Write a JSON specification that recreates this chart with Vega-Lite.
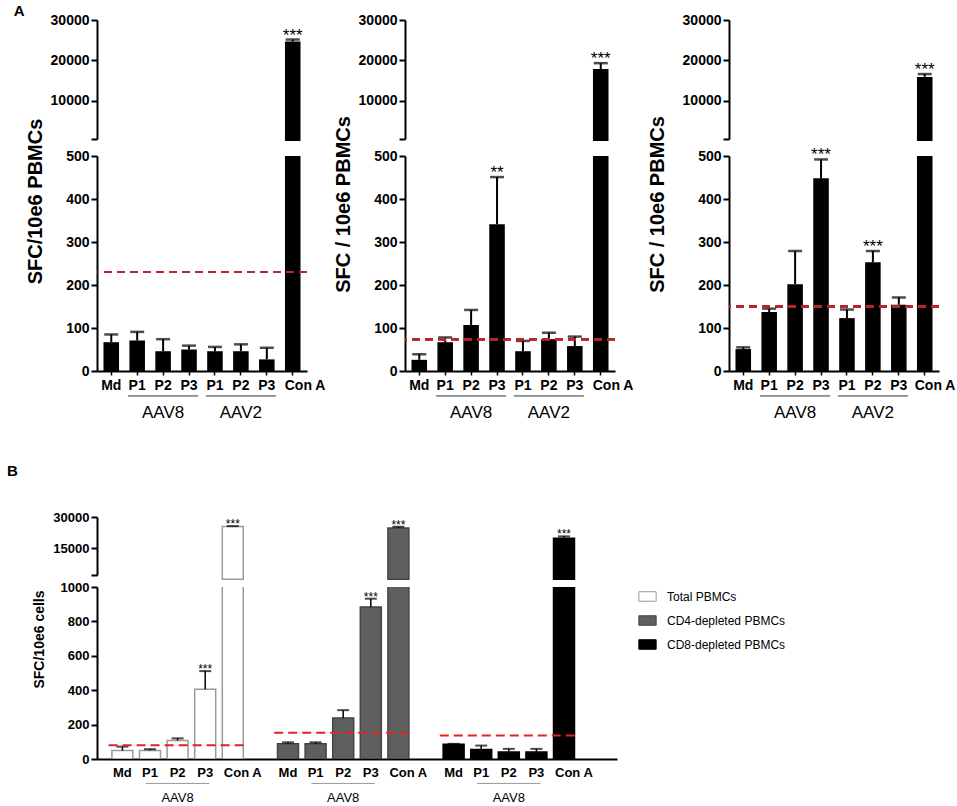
{
  "$schema": "https://vega.github.io/schema/vega-lite/v6.json",
  "padding": {"left": 7, "top": 4, "right": 2, "bottom": 2},
  "config": {
    "font": "Liberation Sans",
    "view": {"stroke": null},
    "axis": {"domainColor": "black", "tickColor": "black", "labelColor": "black", "titleColor": "black", "grid": false, "labelFontWeight": "bold", "titleFontWeight": "bold", "labelOverlap": false, "tickCount": 12},
    "title": {"fontWeight": "bold", "color": "black"}
  },
  "datasets": {
    "a1": [
      {"cat": "Md", "mean": 67, "upper": 85, "sig": ""},
      {"cat": "AAV8|P1", "mean": 71, "upper": 91, "sig": ""},
      {"cat": "AAV8|P2", "mean": 46, "upper": 74, "sig": ""},
      {"cat": "AAV8|P3", "mean": 50, "upper": 59, "sig": ""},
      {"cat": "AAV2|P1", "mean": 46, "upper": 56, "sig": ""},
      {"cat": "AAV2|P2", "mean": 46, "upper": 62, "sig": ""},
      {"cat": "AAV2|P3", "mean": 27, "upper": 54, "sig": ""},
      {"cat": "Con A", "mean": 24670, "upper": 25160, "sig": "***"}
    ],
    "a2": [
      {"cat": "Md", "mean": 26, "upper": 39, "sig": ""},
      {"cat": "AAV8|P1", "mean": 67, "upper": 78, "sig": ""},
      {"cat": "AAV8|P2", "mean": 107, "upper": 142, "sig": ""},
      {"cat": "AAV8|P3", "mean": 341, "upper": 451, "sig": "**"},
      {"cat": "AAV2|P1", "mean": 46, "upper": 70, "sig": ""},
      {"cat": "AAV2|P2", "mean": 74, "upper": 89, "sig": ""},
      {"cat": "AAV2|P3", "mean": 58, "upper": 80, "sig": ""},
      {"cat": "Con A", "mean": 17850, "upper": 19300, "sig": "***"}
    ],
    "a3": [
      {"cat": "Md", "mean": 51, "upper": 55, "sig": ""},
      {"cat": "AAV8|P1", "mean": 137, "upper": 145, "sig": ""},
      {"cat": "AAV8|P2", "mean": 202, "upper": 279, "sig": ""},
      {"cat": "AAV8|P3", "mean": 448, "upper": 492, "sig": "***"},
      {"cat": "AAV2|P1", "mean": 123, "upper": 143, "sig": ""},
      {"cat": "AAV2|P2", "mean": 253, "upper": 279, "sig": "***"},
      {"cat": "AAV2|P3", "mean": 154, "upper": 171, "sig": ""},
      {"cat": "Con A", "mean": 15900, "upper": 16600, "sig": "***"}
    ],
    "b": [
      {"cat": "T|Md", "cells": "Total PBMCs", "mean": 49, "upper": 72, "sig": ""},
      {"cat": "T|P1", "cells": "Total PBMCs", "mean": 49, "upper": 57, "sig": ""},
      {"cat": "T|P2", "cells": "Total PBMCs", "mean": 107, "upper": 120, "sig": ""},
      {"cat": "T|P3", "cells": "Total PBMCs", "mean": 406, "upper": 511, "sig": "***"},
      {"cat": "T|Con A", "cells": "Total PBMCs", "mean": 25460, "upper": 25600, "sig": "***"},
      {"cat": "C4|Md", "cells": "CD4-depleted PBMCs", "mean": 88, "upper": 97, "sig": ""},
      {"cat": "C4|P1", "cells": "CD4-depleted PBMCs", "mean": 88, "upper": 97, "sig": ""},
      {"cat": "C4|P2", "cells": "CD4-depleted PBMCs", "mean": 238, "upper": 284, "sig": ""},
      {"cat": "C4|P3", "cells": "CD4-depleted PBMCs", "mean": 883, "upper": 932, "sig": "***"},
      {"cat": "C4|Con A", "cells": "CD4-depleted PBMCs", "mean": 24700, "upper": 25300, "sig": "***"},
      {"cat": "C8|Md", "cells": "CD8-depleted PBMCs", "mean": 86, "upper": 88, "sig": ""},
      {"cat": "C8|P1", "cells": "CD8-depleted PBMCs", "mean": 55, "upper": 78, "sig": ""},
      {"cat": "C8|P2", "cells": "CD8-depleted PBMCs", "mean": 40, "upper": 59, "sig": ""},
      {"cat": "C8|P3", "cells": "CD8-depleted PBMCs", "mean": 40, "upper": 59, "sig": ""},
      {"cat": "C8|Con A", "cells": "CD8-depleted PBMCs", "mean": 19700, "upper": 20650, "sig": "***"}
    ],
    "groupsA": [
      {"g": "AAV8", "start": "AAV8|P1", "mid": "AAV8|P2", "end": "AAV8|P3"},
      {"g": "AAV2", "start": "AAV2|P1", "mid": "AAV2|P2", "end": "AAV2|P3"}
    ],
    "groupsB": [
      {"g": "AAV8", "start": "T|P1", "mid": "T|P2", "end": "T|P3"},
      {"g": "AAV8", "start": "C4|P1", "mid": "C4|P2", "end": "C4|P3"},
      {"g": "AAV8", "start": "C8|P1", "mid": "C8|P2", "end": "C8|P3"}
    ],
    "thrB": [
      {"start": "T|Md", "end": "T|Con A", "thr": 80},
      {"start": "C4|Md", "end": "C4|Con A", "thr": 153},
      {"start": "C8|Md", "end": "C8|Con A", "thr": 136}
    ]
  },
  "resolve": {"scale": {"fill": "independent", "stroke": "independent"}},
  "spacing": 43,
  "vconcat": [
    {
      "title": {"text": "A", "fontSize": 15, "anchor": "start", "offset": -6, "dx": -12},
      "spacing": 7,
      "hconcat": [
        {
          "spacing": 17, "bounds": "flush",
          "vconcat": [
            {
              "width": 210, "height": 119, "data": {"name": "a1"},
              "transform": [{"filter": "datum.mean > 500"}],
              "layer": [
                {"mark": {"type": "bar", "color": "black", "width": {"band": 0.6}},
                 "encoding": {
                   "x": {"field": "cat", "type": "nominal", "scale": {"domain": ["Md","AAV8|P1","AAV8|P2","AAV8|P3","AAV2|P1","AAV2|P2","AAV2|P3","Con A"], "paddingInner": 0, "paddingOuter": 0.05}, "axis": null},
                   "y": {"field": "mean", "type": "quantitative", "scale": {"domain": [500, 30000], "zero": false, "nice": false},
                   "axis": {"values": [500, 10000, 20000, 30000], "tickCount": 12, "format": "d", "labelExpr": "datum.value == 500 ? '' : datum.label", "title": null, "labelFontSize": 14, "tickSize": 6, "tickWidth": 2, "domainWidth": 2, "labelPadding": 2}}}},
                {"mark": {"type": "rule", "color": "black", "strokeWidth": 2}, "encoding": {"x": {"field": "cat", "type": "nominal"}, "y": {"field": "mean", "type": "quantitative"}, "y2": {"field": "upper"}}},
                {"mark": {"type": "tick", "color": "black", "size": 14, "thickness": 2.5}, "encoding": {"x": {"field": "cat", "type": "nominal"}, "y": {"field": "upper", "type": "quantitative"}}},
                {"transform": [{"filter": "datum.sig != ''"}], "mark": {"type": "text", "fontSize": 17, "baseline": "alphabetic", "dy": 1, "color": "black"}, "encoding": {"x": {"field": "cat", "type": "nominal"}, "y": {"field": "upper", "type": "quantitative"}, "text": {"field": "sig"}}}
              ]
            },
            {
              "width": 210, "height": 215, "data": {"name": "a1"},
              "layer": [
                {"mark": {"type": "bar", "color": "black", "clip": true, "width": {"band": 0.6}},
                 "encoding": {
                   "x": {"field": "cat", "type": "nominal", "scale": {"domain": ["Md","AAV8|P1","AAV8|P2","AAV8|P3","AAV2|P1","AAV2|P2","AAV2|P3","Con A"], "paddingInner": 0, "paddingOuter": 0.05},
                     "axis": {"title": null, "labelAngle": 0, "labelFontSize": 14, "labelPadding": 3, "tickSize": 4, "tickWidth": 1.5, "domainWidth": 2,
                       "labelAlign": {"condition": {"test": "datum.value == 'Con A'", "value": "left"}, "value": "center"},
                       "labelOffset": {"condition": {"test": "datum.value == 'Con A'", "value": -8}, "value": 0},
                       "labelExpr": "indexof(datum.label,'|') >= 0 ? substring(datum.label, indexof(datum.label,'|')+1) : datum.label"}},
                   "y": {"field": "mean", "type": "quantitative", "scale": {"domain": [0, 500], "nice": false},
                   "axis": {"values": [0, 100, 200, 300, 400, 500], "tickCount": 12, "format": "d", "title": "SFC/10e6 PBMCs", "titleFontSize": 20, "titleY": 45, "titlePadding": 20, "labelFontSize": 14, "tickSize": 6, "tickWidth": 2, "domainWidth": 2, "labelPadding": 2}}}},
                {"mark": {"type": "rule", "color": "black", "strokeWidth": 2, "clip": true}, "encoding": {"x": {"field": "cat", "type": "nominal"}, "y": {"field": "mean", "type": "quantitative"}, "y2": {"field": "upper"}}},
                {"mark": {"type": "tick", "color": "black", "size": 14, "thickness": 2.5, "clip": true}, "encoding": {"x": {"field": "cat", "type": "nominal"}, "y": {"field": "upper", "type": "quantitative"}}},
                {"transform": [{"filter": "datum.sig != '' && datum.mean < 500"}], "mark": {"type": "text", "fontSize": 17, "baseline": "alphabetic", "dy": 1, "color": "black"}, "encoding": {"x": {"field": "cat", "type": "nominal"}, "y": {"field": "upper", "type": "quantitative"}, "text": {"field": "sig"}}},
                {"mark": {"type": "rule", "color": "#b8262b", "strokeWidth": 2, "strokeDash": [8, 5]}, "encoding": {"y": {"datum": 230}}},
                {"data": {"name": "groupsA"}, "mark": {"type": "rule", "color": "#333333", "strokeWidth": 1}, "encoding": {"x": {"field": "start", "type": "nominal", "bandPosition": 0.15}, "x2": {"field": "end", "bandPosition": 0.85}, "y": {"datum": -58}}},
                {"data": {"name": "groupsA"}, "mark": {"type": "text", "fontSize": 17, "baseline": "middle", "color": "black"}, "encoding": {"x": {"field": "mid", "type": "nominal"}, "y": {"datum": -97}, "text": {"field": "g"}}}
              ]
            }
          ]
        },
        {
          "spacing": 13,
          "hconcat": [
            {
              "spacing": 17, "bounds": "flush",
              "vconcat": [
                {
                  "width": 210, "height": 119, "data": {"name": "a2"},
                  "transform": [{"filter": "datum.mean > 500"}],
                  "layer": [
                    {"mark": {"type": "bar", "color": "black", "width": {"band": 0.6}},
                     "encoding": {
                       "x": {"field": "cat", "type": "nominal", "scale": {"domain": ["Md","AAV8|P1","AAV8|P2","AAV8|P3","AAV2|P1","AAV2|P2","AAV2|P3","Con A"], "paddingInner": 0, "paddingOuter": 0.05}, "axis": null},
                       "y": {"field": "mean", "type": "quantitative", "scale": {"domain": [500, 30000], "zero": false, "nice": false},
                       "axis": {"values": [500, 10000, 20000, 30000], "tickCount": 12, "format": "d", "labelExpr": "datum.value == 500 ? '' : datum.label", "title": null, "labelFontSize": 14, "tickSize": 6, "tickWidth": 2, "domainWidth": 2, "labelPadding": 2}}}},
                    {"mark": {"type": "rule", "color": "black", "strokeWidth": 2}, "encoding": {"x": {"field": "cat", "type": "nominal"}, "y": {"field": "mean", "type": "quantitative"}, "y2": {"field": "upper"}}},
                    {"mark": {"type": "tick", "color": "black", "size": 14, "thickness": 2.5}, "encoding": {"x": {"field": "cat", "type": "nominal"}, "y": {"field": "upper", "type": "quantitative"}}},
                    {"transform": [{"filter": "datum.sig != ''"}], "mark": {"type": "text", "fontSize": 17, "baseline": "alphabetic", "dy": 1, "color": "black"}, "encoding": {"x": {"field": "cat", "type": "nominal"}, "y": {"field": "upper", "type": "quantitative"}, "text": {"field": "sig"}}}
                  ]
                },
                {
                  "width": 210, "height": 215, "data": {"name": "a2"},
                  "layer": [
                    {"mark": {"type": "bar", "color": "black", "clip": true, "width": {"band": 0.6}},
                     "encoding": {
                       "x": {"field": "cat", "type": "nominal", "scale": {"domain": ["Md","AAV8|P1","AAV8|P2","AAV8|P3","AAV2|P1","AAV2|P2","AAV2|P3","Con A"], "paddingInner": 0, "paddingOuter": 0.05},
                         "axis": {"title": null, "labelAngle": 0, "labelFontSize": 14, "labelPadding": 3, "tickSize": 4, "tickWidth": 1.5, "domainWidth": 2,
                           "labelAlign": {"condition": {"test": "datum.value == 'Con A'", "value": "left"}, "value": "center"},
                           "labelOffset": {"condition": {"test": "datum.value == 'Con A'", "value": -8}, "value": 0},
                           "labelExpr": "indexof(datum.label,'|') >= 0 ? substring(datum.label, indexof(datum.label,'|')+1) : datum.label"}},
                       "y": {"field": "mean", "type": "quantitative", "scale": {"domain": [0, 500], "nice": false},
                       "axis": {"values": [0, 100, 200, 300, 400, 500], "tickCount": 12, "format": "d", "title": "SFC / 10e6 PBMCs", "titleFontSize": 20, "titleY": 48, "titlePadding": 20, "labelFontSize": 14, "tickSize": 6, "tickWidth": 2, "domainWidth": 2, "labelPadding": 2}}}},
                    {"mark": {"type": "rule", "color": "black", "strokeWidth": 2, "clip": true}, "encoding": {"x": {"field": "cat", "type": "nominal"}, "y": {"field": "mean", "type": "quantitative"}, "y2": {"field": "upper"}}},
                    {"mark": {"type": "tick", "color": "black", "size": 14, "thickness": 2.5, "clip": true}, "encoding": {"x": {"field": "cat", "type": "nominal"}, "y": {"field": "upper", "type": "quantitative"}}},
                    {"transform": [{"filter": "datum.sig != '' && datum.mean < 500"}], "mark": {"type": "text", "fontSize": 17, "baseline": "alphabetic", "dy": 1, "color": "black"}, "encoding": {"x": {"field": "cat", "type": "nominal"}, "y": {"field": "upper", "type": "quantitative"}, "text": {"field": "sig"}}},
                    {"mark": {"type": "rule", "color": "#b8262b", "strokeWidth": 2, "strokeDash": [8, 5]}, "encoding": {"y": {"datum": 74}}},
                    {"data": {"name": "groupsA"}, "mark": {"type": "rule", "color": "#333333", "strokeWidth": 1}, "encoding": {"x": {"field": "start", "type": "nominal", "bandPosition": 0.15}, "x2": {"field": "end", "bandPosition": 0.85}, "y": {"datum": -58}}},
                    {"data": {"name": "groupsA"}, "mark": {"type": "text", "fontSize": 17, "baseline": "middle", "color": "black"}, "encoding": {"x": {"field": "mid", "type": "nominal"}, "y": {"datum": -97}, "text": {"field": "g"}}}
                  ]
                }
              ]
            },
            {
              "spacing": 17, "bounds": "flush",
              "vconcat": [
                {
                  "width": 210, "height": 119, "data": {"name": "a3"},
                  "transform": [{"filter": "datum.mean > 500"}],
                  "layer": [
                    {"mark": {"type": "bar", "color": "black", "width": {"band": 0.6}},
                     "encoding": {
                       "x": {"field": "cat", "type": "nominal", "scale": {"domain": ["Md","AAV8|P1","AAV8|P2","AAV8|P3","AAV2|P1","AAV2|P2","AAV2|P3","Con A"], "paddingInner": 0, "paddingOuter": 0.05}, "axis": null},
                       "y": {"field": "mean", "type": "quantitative", "scale": {"domain": [500, 30000], "zero": false, "nice": false},
                       "axis": {"values": [500, 10000, 20000, 30000], "tickCount": 12, "format": "d", "labelExpr": "datum.value == 500 ? '' : datum.label", "title": null, "labelFontSize": 14, "tickSize": 6, "tickWidth": 2, "domainWidth": 2, "labelPadding": 2}}}},
                    {"mark": {"type": "rule", "color": "black", "strokeWidth": 2}, "encoding": {"x": {"field": "cat", "type": "nominal"}, "y": {"field": "mean", "type": "quantitative"}, "y2": {"field": "upper"}}},
                    {"mark": {"type": "tick", "color": "black", "size": 14, "thickness": 2.5}, "encoding": {"x": {"field": "cat", "type": "nominal"}, "y": {"field": "upper", "type": "quantitative"}}},
                    {"transform": [{"filter": "datum.sig != ''"}], "mark": {"type": "text", "fontSize": 17, "baseline": "alphabetic", "dy": 1, "color": "black"}, "encoding": {"x": {"field": "cat", "type": "nominal"}, "y": {"field": "upper", "type": "quantitative"}, "text": {"field": "sig"}}}
                  ]
                },
                {
                  "width": 210, "height": 215, "data": {"name": "a3"},
                  "layer": [
                    {"mark": {"type": "bar", "color": "black", "clip": true, "width": {"band": 0.6}},
                     "encoding": {
                       "x": {"field": "cat", "type": "nominal", "scale": {"domain": ["Md","AAV8|P1","AAV8|P2","AAV8|P3","AAV2|P1","AAV2|P2","AAV2|P3","Con A"], "paddingInner": 0, "paddingOuter": 0.05},
                         "axis": {"title": null, "labelAngle": 0, "labelFontSize": 14, "labelPadding": 3, "tickSize": 4, "tickWidth": 1.5, "domainWidth": 2,
                           "labelAlign": {"condition": {"test": "datum.value == 'Con A'", "value": "left"}, "value": "center"},
                           "labelOffset": {"condition": {"test": "datum.value == 'Con A'", "value": -10}, "value": 0},
                           "labelExpr": "indexof(datum.label,'|') >= 0 ? substring(datum.label, indexof(datum.label,'|')+1) : datum.label"}},
                       "y": {"field": "mean", "type": "quantitative", "scale": {"domain": [0, 500], "nice": false},
                       "axis": {"values": [0, 100, 200, 300, 400, 500], "tickCount": 12, "format": "d", "title": "SFC / 10e6 PBMCs", "titleFontSize": 20, "titleY": 48, "titlePadding": 30, "labelFontSize": 14, "tickSize": 6, "tickWidth": 2, "domainWidth": 2, "labelPadding": 2}}}},
                    {"mark": {"type": "rule", "color": "black", "strokeWidth": 2, "clip": true}, "encoding": {"x": {"field": "cat", "type": "nominal"}, "y": {"field": "mean", "type": "quantitative"}, "y2": {"field": "upper"}}},
                    {"mark": {"type": "tick", "color": "black", "size": 14, "thickness": 2.5, "clip": true}, "encoding": {"x": {"field": "cat", "type": "nominal"}, "y": {"field": "upper", "type": "quantitative"}}},
                    {"transform": [{"filter": "datum.sig != '' && datum.mean < 500"}], "mark": {"type": "text", "fontSize": 17, "baseline": "alphabetic", "dy": 1, "color": "black"}, "encoding": {"x": {"field": "cat", "type": "nominal"}, "y": {"field": "upper", "type": "quantitative"}, "text": {"field": "sig"}}},
                    {"mark": {"type": "rule", "color": "#b8262b", "strokeWidth": 2, "strokeDash": [8, 5]}, "encoding": {"y": {"datum": 150}}},
                    {"data": {"name": "groupsA"}, "mark": {"type": "rule", "color": "#333333", "strokeWidth": 1}, "encoding": {"x": {"field": "start", "type": "nominal", "bandPosition": 0.15}, "x2": {"field": "end", "bandPosition": 0.85}, "y": {"datum": -58}}},
                    {"data": {"name": "groupsA"}, "mark": {"type": "text", "fontSize": 17, "baseline": "middle", "color": "black"}, "encoding": {"x": {"field": "mid", "type": "nominal"}, "y": {"datum": -97}, "text": {"field": "g"}}}
                  ]
                }
              ]
            }
          ]
        }
      ]
    },
    {
      "title": {"text": "B", "fontSize": 15, "anchor": "start", "offset": 32, "dx": -25},
      "spacing": 12, "bounds": "flush",
      "resolve": {"scale": {"fill": "independent", "stroke": "independent"}},
      "vconcat": [
        {
          "width": 520, "height": 58, "data": {"name": "b"},
          "transform": [{"filter": "datum.mean > 1000"}],
          "layer": [
            {"mark": {"type": "bar", "width": {"band": 0.76}, "strokeWidth": 1.5},
             "encoding": {
               "x": {"field": "cat", "type": "nominal", "scale": {"domain": ["T|Md","T|P1","T|P2","T|P3","T|Con A","s1","C4|Md","C4|P1","C4|P2","C4|P3","C4|Con A","s2","C8|Md","C8|P1","C8|P2","C8|P3","C8|Con A","s3"], "paddingInner": 0, "paddingOuter": 0.42}, "axis": null},
               "y": {"field": "mean", "type": "quantitative", "scale": {"domain": [2000, 30000], "zero": false, "nice": false},
                 "axis": {"values": [2000, 15000, 30000], "tickCount": 12, "format": "d", "labelExpr": "datum.value == 2000 ? '' : datum.label", "title": null, "labelFontSize": 13, "tickSize": 6, "tickWidth": 2, "domainWidth": 2, "labelPadding": 2}},
               "fill": {"field": "cells", "type": "nominal", "scale": {"domain": ["Total PBMCs", "CD4-depleted PBMCs", "CD8-depleted PBMCs"], "range": ["#ffffff", "#5f5f5f", "#000000"]}, "legend": null},
               "stroke": {"field": "cells", "type": "nominal", "scale": {"domain": ["Total PBMCs", "CD4-depleted PBMCs", "CD8-depleted PBMCs"], "range": ["#9a9a9a", "#444444", "#000000"]}, "legend": null}}},
            {"mark": {"type": "rule", "color": "black", "strokeWidth": 1.5}, "encoding": {"x": {"field": "cat", "type": "nominal"}, "y": {"field": "mean", "type": "quantitative"}, "y2": {"field": "upper"}}},
            {"mark": {"type": "tick", "color": "black", "size": 12, "thickness": 2}, "encoding": {"x": {"field": "cat", "type": "nominal"}, "y": {"field": "upper", "type": "quantitative"}}},
            {"transform": [{"filter": "datum.sig != ''"}], "mark": {"type": "text", "fontSize": 12, "baseline": "alphabetic", "dy": 2, "color": "black"}, "encoding": {"x": {"field": "cat", "type": "nominal"}, "y": {"field": "upper", "type": "quantitative"}, "text": {"field": "sig"}}}
          ]
        },
        {
          "width": 520, "height": 172, "data": {"name": "b"},
          "layer": [
            {"mark": {"type": "bar", "clip": true, "width": {"band": 0.76}, "strokeWidth": 1.5},
             "encoding": {
               "x": {"field": "cat", "type": "nominal", "scale": {"domain": ["T|Md","T|P1","T|P2","T|P3","T|Con A","s1","C4|Md","C4|P1","C4|P2","C4|P3","C4|Con A","s2","C8|Md","C8|P1","C8|P2","C8|P3","C8|Con A","s3"], "paddingInner": 0, "paddingOuter": 0.42},
                 "axis": {"title": null, "labelAngle": 0, "labelFontSize": 13, "labelPadding": 7, "ticks": false, "domainWidth": 2,
                   "labelAlign": {"condition": {"test": "indexof(datum.value, 'Con A') >= 0", "value": "left"}, "value": "center"},
                   "labelOffset": {"condition": {"test": "indexof(datum.value, 'Con A') >= 0", "value": -9}, "value": 0},
                   "labelExpr": "indexof(datum.label,'|') >= 0 ? substring(datum.label, indexof(datum.label,'|')+1) : ''"}},
               "y": {"field": "mean", "type": "quantitative", "scale": {"domain": [0, 1000], "nice": false},
                 "axis": {"values": [0, 200, 400, 600, 800, 1000], "tickCount": 12, "format": "d", "title": "SFC/10e6 cells", "titleFontSize": 14, "titleY": 52, "titlePadding": 14, "labelFontSize": 13, "tickSize": 6, "tickWidth": 2, "domainWidth": 2, "labelPadding": 2}},
               "fill": {"field": "cells", "type": "nominal", "scale": {"domain": ["Total PBMCs", "CD4-depleted PBMCs", "CD8-depleted PBMCs"], "range": ["#ffffff", "#5f5f5f", "#000000"]},
                 "legend": {"title": null, "orient": "right", "offset": 21, "padding": 0, "symbolType": "M-1,-0.55H1V0.55H-1Z", "symbolSize": 300, "symbolStrokeColor": "#555555", "symbolStrokeWidth": 1, "labelFontSize": 12, "labelFontWeight": "normal", "labelColor": "black", "labelOffset": 10, "rowPadding": 7}},
               "stroke": {"field": "cells", "type": "nominal", "scale": {"domain": ["Total PBMCs", "CD4-depleted PBMCs", "CD8-depleted PBMCs"], "range": ["#9a9a9a", "#444444", "#000000"]}, "legend": null}}},
            {"mark": {"type": "rule", "color": "black", "strokeWidth": 1.5, "clip": true}, "encoding": {"x": {"field": "cat", "type": "nominal"}, "y": {"field": "mean", "type": "quantitative"}, "y2": {"field": "upper"}}},
            {"mark": {"type": "tick", "color": "black", "size": 12, "thickness": 2, "clip": true}, "encoding": {"x": {"field": "cat", "type": "nominal"}, "y": {"field": "upper", "type": "quantitative"}}},
            {"transform": [{"filter": "datum.sig != '' && datum.mean < 1000"}], "mark": {"type": "text", "fontSize": 12, "baseline": "alphabetic", "dy": 2, "color": "black"}, "encoding": {"x": {"field": "cat", "type": "nominal"}, "y": {"field": "upper", "type": "quantitative"}, "text": {"field": "sig"}}},
            {"data": {"name": "thrB"}, "mark": {"type": "rule", "color": "#e8201c", "strokeWidth": 2, "strokeDash": [9, 5]}, "encoding": {"x": {"field": "start", "type": "nominal", "bandPosition": 0}, "x2": {"field": "end", "bandPosition": 1}, "y": {"field": "thr", "type": "quantitative"}}},
            {"data": {"name": "groupsB"}, "mark": {"type": "rule", "color": "#999999", "strokeWidth": 1}, "encoding": {"x": {"field": "start", "type": "nominal", "bandPosition": 0.35}, "x2": {"field": "end", "bandPosition": 0.65}, "y": {"datum": -142}}},
            {"data": {"name": "groupsB"}, "mark": {"type": "text", "fontSize": 13, "baseline": "middle", "color": "black"}, "encoding": {"x": {"field": "mid", "type": "nominal"}, "y": {"datum": -229}, "text": {"field": "g"}}}
          ]
        }
      ]
    }
  ]
}
